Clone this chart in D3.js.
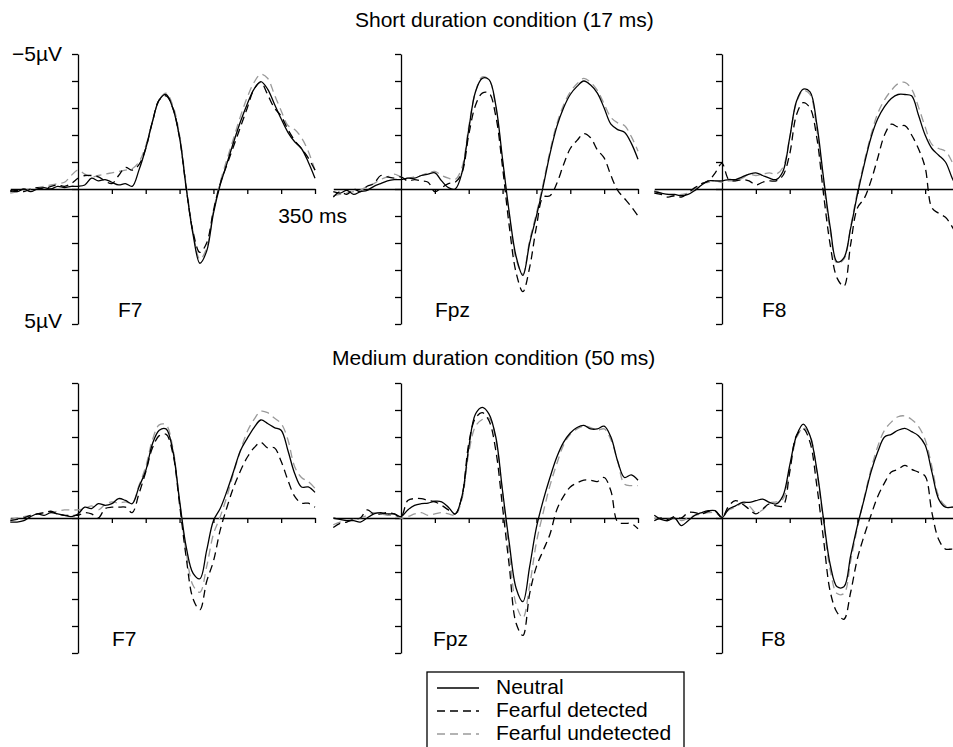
<!DOCTYPE html>
<html>
<head>
<meta charset="utf-8">
<script src="https://cdn.jsdelivr.net/npm/d3@7"></script>
<style>
  body { margin: 0; background: #fff; }
  text { font-family: "Liberation Sans", Arial, Helvetica, sans-serif; }
</style>
</head>
<body>
<svg id="chart" width="953" height="747"></svg>
<script>
// ---------- data (µV, negative plotted upward) ----------
var times = [-100,-90,-80,-70,-60,-50,-40,-30,-20,-10,
  0,10,20,30,40,50,60,70,80,90,
  100,110,120,130,140,150,160,170,180,190,
  200,210,220,230,240,250,260,270,280,290,
  300,310,320,330,340,350];

var yTicks = [-5,-4,-3,-2,-1,0,1,2,3,4,5];
var xTicks = [50,100,150,200,250,300,350];
var conditions = ["Short duration condition (17 ms)", "Medium duration condition (50 ms)"];
var electrodes = ["F7", "Fpz", "F8"];
var seriesNames = ["Neutral", "Fearful detected", "Fearful undetected"];

// short duration (17 ms)
var shortF7Neutral = [0.05,0.1,0.0,0.1,0.0,-0.05,0.0,-0.1,-0.05,-0.1,
  -0.1,-0.15,-0.4,-0.3,-0.35,-0.25,-0.15,-0.2,-0.1,-0.7,
  -1.5,-2.5,-3.3,-3.5,-3.0,-1.9,0.0,1.7,2.75,2.3,
  0.9,-0.15,-0.95,-1.75,-2.5,-3.15,-3.7,-3.98,-3.7,-3.15,
  -2.6,-2.1,-1.75,-1.5,-1.0,-0.4];
var shortF7Detected = [0.1,0.05,0.1,0.0,-0.05,0.0,-0.1,-0.15,-0.1,-0.2,
  -0.4,-0.5,-0.5,-0.45,-0.3,-0.2,-0.5,-0.8,-0.7,-0.9,
  -1.5,-2.5,-3.3,-3.45,-3.0,-1.9,0.0,1.6,2.35,2.0,
  0.8,-0.2,-0.9,-1.6,-2.3,-3.0,-3.7,-3.95,-3.5,-3.0,
  -2.7,-2.2,-1.8,-1.5,-1.15,-0.7];
var shortF7Undetected = [0.15,0.1,0.05,0.0,-0.05,-0.1,-0.15,-0.2,-0.25,-0.5,
  -0.7,-0.55,-0.45,-0.5,-0.55,-0.6,-0.65,-0.7,-0.75,-1.0,
  -1.6,-2.5,-3.3,-3.55,-3.1,-2.0,-0.1,1.6,2.6,2.2,
  0.8,-0.25,-1.1,-1.9,-2.7,-3.4,-3.95,-4.25,-4.1,-3.5,
  -2.9,-2.35,-2.2,-1.9,-1.4,-0.7];

var shortFpzNeutral = [0.1,0.15,0.05,0.2,0.1,0.05,-0.1,-0.2,-0.3,-0.35,
  -0.35,-0.4,-0.4,-0.5,-0.55,-0.6,-0.3,-0.05,0.0,-0.6,
  -2.2,-3.6,-4.1,-4.05,-3.1,-1.1,0.9,2.5,3.2,2.0,
  1.0,-0.1,-1.3,-2.3,-3.0,-3.5,-3.8,-4.0,-3.85,-3.55,
  -3.0,-2.4,-2.2,-2.1,-1.7,-1.1];
var shortFpzDetected = [0.3,0.1,0.2,0.0,0.1,-0.1,-0.2,-0.5,-0.45,-0.4,
  -0.45,-0.3,-0.35,-0.3,-0.25,0.1,-0.05,-0.2,-0.25,-0.6,
  -2.0,-3.1,-3.55,-3.55,-2.7,-0.8,1.4,3.1,3.8,2.9,
  1.4,0.3,0.25,-0.2,-0.9,-1.5,-1.8,-2.05,-1.9,-1.45,
  -1.15,-0.5,0.05,0.35,0.65,1.0];
var shortFpzUndetected = [0.25,0.2,0.15,0.1,0.05,-0.1,-0.2,-0.35,-0.45,-0.55,
  -0.45,-0.4,-0.45,-0.5,-0.6,-0.65,-0.5,-0.4,-0.35,-0.8,
  -2.3,-3.6,-4.15,-4.05,-3.0,-1.0,1.0,2.6,3.15,1.9,
  0.9,-0.2,-1.4,-2.4,-3.1,-3.6,-3.9,-4.1,-3.95,-3.65,
  -3.15,-2.65,-2.45,-2.35,-1.95,-1.4];

var shortF8Neutral = [0.1,0.15,0.2,0.2,0.25,0.2,0.05,-0.15,-0.3,-0.3,
  -0.3,-0.35,-0.35,-0.45,-0.55,-0.6,-0.5,-0.4,-0.35,-0.65,
  -1.9,-3.25,-3.7,-3.6,-2.4,-0.4,1.45,2.7,2.55,1.45,
  0.2,-0.9,-1.9,-2.6,-3.05,-3.35,-3.5,-3.5,-3.45,-2.75,
  -2.0,-1.5,-1.25,-1.0,-0.4,0.1];
var shortF8Detected = [0.15,0.2,0.3,0.25,0.3,0.15,-0.05,-0.2,-0.3,-0.6,
  -0.95,-0.35,-0.3,-0.35,-0.3,-0.15,-0.25,-0.3,-0.3,-0.5,
  -1.3,-2.75,-3.2,-3.0,-1.9,0.2,2.1,3.3,3.6,2.05,
  0.7,0.35,-0.3,-1.15,-2.0,-2.4,-2.3,-2.35,-2.0,-1.5,
  -0.8,0.7,0.9,1.05,1.4,1.9];
var shortF8Undetected = [0.05,0.15,0.2,0.25,0.2,0.15,0.0,-0.2,-0.25,-0.3,
  -0.25,-0.3,-0.3,-0.4,-0.55,-0.5,-0.55,-0.6,-0.55,-0.8,
  -1.9,-3.2,-3.65,-3.5,-2.2,-0.2,1.6,2.75,2.6,1.4,
  0.1,-1.0,-2.0,-2.8,-3.3,-3.65,-3.9,-3.95,-3.7,-3.05,
  -2.3,-1.65,-1.5,-1.4,-1.0,-0.5];

// medium duration (50 ms)
var medF7Neutral = [0.15,0.15,0.1,-0.05,-0.15,-0.1,-0.2,-0.15,-0.1,-0.05,
  -0.15,-0.4,-0.35,-0.53,-0.47,-0.53,-0.72,-0.65,-0.53,-1.15,
  -1.75,-2.75,-3.25,-3.3,-2.5,-0.65,1.1,2.05,2.25,1.2,
  0.1,-0.35,-1.0,-1.75,-2.5,-2.95,-3.35,-3.63,-3.5,-3.35,
  -3.25,-2.5,-1.65,-1.15,-1.15,-0.95];
var medF7Detected = [0.1,0.05,0.0,-0.1,-0.15,-0.2,-0.25,-0.15,-0.1,-0.1,
  -0.1,-0.2,-0.15,0.0,-0.35,-0.4,-0.4,-0.4,-0.2,-0.9,
  -1.7,-2.6,-3.05,-3.1,-2.4,-0.5,1.5,3.0,3.4,2.35,
  1.6,0.45,-0.4,-1.15,-1.75,-2.25,-2.6,-2.8,-2.6,-2.6,
  -2.1,-1.4,-0.8,-0.55,-0.55,-0.4];
var medF7Undetected = [0.05,0.0,-0.05,-0.1,-0.15,-0.2,-0.2,-0.25,-0.3,-0.3,
  -0.3,-0.35,-0.45,-0.3,-0.5,-0.6,-0.55,-0.6,-0.55,-1.2,
  -1.9,-2.9,-3.45,-3.45,-2.6,-0.6,1.3,2.5,2.75,1.8,
  0.6,-0.05,-0.8,-1.7,-2.5,-3.2,-3.65,-3.95,-3.9,-3.7,
  -3.5,-2.9,-1.9,-1.5,-1.35,-1.1];

var medFpzNeutral = [0.0,0.05,0.1,0.1,0.15,0.0,-0.15,-0.2,-0.15,-0.15,
  -0.05,-0.3,-0.47,-0.53,-0.55,-0.62,-0.6,-0.4,-0.15,-0.8,
  -2.6,-3.85,-4.1,-3.85,-3.0,-1.0,0.95,2.6,3.1,1.8,
  0.35,-0.65,-1.5,-2.25,-2.8,-3.15,-3.35,-3.43,-3.3,-3.3,
  -3.4,-3.0,-2.1,-1.5,-1.6,-1.4];
var medFpzDetected = [0.35,0.2,0.15,0.05,0.0,-0.3,-0.15,-0.15,-0.2,-0.15,
  -0.05,-0.65,-0.72,-0.72,-0.65,-0.6,-0.47,-0.3,-0.15,-0.8,
  -2.75,-3.7,-3.9,-3.6,-2.5,-0.4,1.8,3.9,4.35,2.8,
  1.8,1.2,0.6,-0.3,-0.8,-1.15,-1.3,-1.4,-1.4,-1.35,
  -1.5,-1.0,0.15,0.2,0.2,0.4];
var medFpzUndetected = [0.25,0.15,0.1,0.05,0.0,-0.1,-0.2,-0.15,-0.1,-0.1,
  0.0,-0.05,-0.15,-0.2,-0.1,-0.15,-0.2,-0.15,-0.1,-0.7,
  -2.4,-3.4,-3.65,-3.7,-2.9,-0.9,1.3,3.2,3.7,2.5,
  0.9,-0.2,-1.2,-2.0,-2.7,-3.1,-3.3,-3.4,-3.35,-3.25,
  -3.3,-2.9,-2.1,-1.25,-1.2,-1.2];

var medF8Neutral = [-0.1,0.05,0.1,0.0,0.28,0.1,-0.1,-0.2,-0.27,-0.27,
  -0.02,-0.33,-0.45,-0.58,-0.58,-0.64,-0.7,-0.58,-0.52,-0.82,
  -1.95,-3.05,-3.48,-3.05,-1.8,0.05,1.75,2.55,2.55,1.4,
  0.28,-0.7,-1.7,-2.45,-3.0,-3.1,-3.25,-3.32,-3.2,-3.05,
  -2.7,-1.7,-0.7,-0.4,-0.4,-0.4];
var medF8Detected = [0.1,0.0,0.05,-0.05,0.0,-0.2,-0.2,-0.15,-0.25,-0.25,
  -0.02,-0.45,-0.64,-0.52,-0.33,-0.15,-0.33,-0.52,-0.45,-0.45,
  -1.7,-3.05,-3.3,-2.8,-1.2,0.8,2.75,3.5,3.75,2.75,
  1.5,0.65,-0.1,-0.8,-1.3,-1.7,-1.8,-1.95,-1.8,-1.7,
  -1.55,-0.2,0.8,1.15,1.15,1.2];
var medF8Undetected = [0.0,0.05,0.05,0.0,0.1,0.0,-0.1,-0.15,-0.2,-0.2,
  -0.05,-0.3,-0.4,-0.55,-0.45,-0.2,-0.3,-0.55,-0.6,-0.7,
  -1.8,-2.95,-3.35,-3.05,-1.7,0.2,1.95,2.8,2.8,1.6,
  0.35,-0.75,-1.8,-2.65,-3.25,-3.55,-3.75,-3.78,-3.65,-3.4,
  -2.9,-1.9,-0.8,-0.45,-0.4,-0.4];

var panelData = [
  [[shortF7Neutral, shortF7Detected, shortF7Undetected],
   [shortFpzNeutral, shortFpzDetected, shortFpzUndetected],
   [shortF8Neutral, shortF8Detected, shortF8Undetected]],
  [[medF7Neutral, medF7Detected, medF7Undetected],
   [medFpzNeutral, medFpzDetected, medFpzUndetected],
   [medF8Neutral, medF8Detected, medF8Undetected]]
];

// ---------- layout ----------
var svg = d3.select("#chart");
var axisX = [78, 401, 722];      // x of the 0 ms axis per column
var rowZero = [189, 518];        // y of 0 µV per row
var labelDx = [[40, 34, 40], [34, 32, 39]];  // electrode label offset from axis
var msPx = 237 / 350;
var uvPx = 27;

// line styles per series
var strokeColor = ["#000", "#000", "#9a9a9a"];
var strokeDash = [null, "8,5", "8,5"];

// titles
svg.append("text").attr("x", 355).attr("y", 27)
  .style("font-size", "21px").style("fill", "#000")
  .text(conditions[0]);
svg.append("text").attr("x", 332).attr("y", 365)
  .style("font-size", "21px").style("fill", "#000")
  .text(conditions[1]);

rowZero.forEach(function(zero, r) {
  axisX.forEach(function(ax, c) {
    var x = d3.scaleLinear().domain([-100, 350])
      .range([ax - 100 * msPx, ax + 350 * msPx]);
    var y = d3.scaleLinear().domain([-5, 5])
      .range([zero - 5 * uvPx, zero + 5 * uvPx]);

    var g = svg.append("g").attr("class", "panel");

    // y axis (ticks to the left)
    g.append("g")
      .attr("transform", "translate(" + ax + ",0)")
      .call(d3.axisLeft(y).tickValues(yTicks).tickSize(6).tickSizeOuter(0).tickFormat(""))
      .call(function(s) { s.selectAll("path,line").attr("stroke", "#000").attr("stroke-width", 1.3); });

    // x axis along 0 µV (ticks below)
    g.append("g")
      .attr("transform", "translate(0," + zero + ")")
      .call(d3.axisBottom(x).tickValues(xTicks).tickSize(5).tickSizeOuter(0).tickFormat(""))
      .call(function(s) { s.selectAll("path,line").attr("stroke", "#000").attr("stroke-width", 1.3); });

    var line = d3.line()
      .x(function(d, i) { return x(times[i]); })
      .y(function(d) { return y(d); })
      .curve(d3.curveCatmullRom.alpha(0.5));

    // draw undetected first so black lines sit on top
    [2, 1, 0].forEach(function(k) {
      g.append("path")
        .datum(panelData[r][c][k])
        .attr("d", line)
        .attr("fill", "none")
        .attr("stroke", strokeColor[k])
        .attr("stroke-width", 1.3)
        .attr("stroke-dasharray", strokeDash[k]);
    });

    // electrode label
    g.append("text")
      .attr("x", ax + labelDx[r][c])
      .attr("y", zero + 128)
      .style("font-size", "21px")
      .text(electrodes[c]);

    if (r === 0 && c === 0) {
      g.append("text").attr("x", 62).attr("y", 61)
        .attr("text-anchor", "end").style("font-size", "21px")
        .text("\u22125\u00b5V");
      g.append("text").attr("x", 62).attr("y", 328)
        .attr("text-anchor", "end").style("font-size", "21px")
        .text("5\u00b5V");
      g.append("text").attr("x", x(350) + 32).attr("y", 223)
        .attr("text-anchor", "end").style("font-size", "21px")
        .text("350 ms");
    }
  });
});

// ---------- legend ----------
var legend = svg.append("g").attr("transform", "translate(427,672)");
legend.append("rect")
  .attr("width", 257).attr("height", 100)
  .attr("fill", "#fff").attr("stroke", "#000").attr("stroke-width", 1.3);
seriesNames.forEach(function(name, k) {
  var ly = 16 + k * 23;
  legend.append("line")
    .attr("x1", 10).attr("x2", 52).attr("y1", ly).attr("y2", ly)
    .attr("stroke", strokeColor[k]).attr("stroke-width", 1.3)
    .attr("stroke-dasharray", strokeDash[k]);
  legend.append("text")
    .attr("x", 69).attr("y", ly + 6)
    .style("font-size", "21px")
    .text(name);
});
</script>
</body>
</html>
